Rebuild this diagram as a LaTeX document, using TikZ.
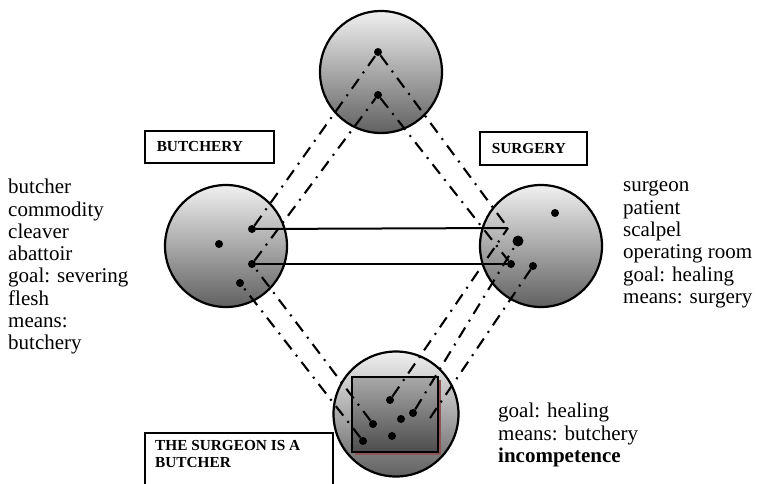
\documentclass[tikz,border=0pt]{standalone}
\usepackage{fontspec}
\setmainfont{Liberation Serif}
\begin{document}
\begin{tikzpicture}[x=1pt,y=-1pt,
  ball/.style={circle,draw=black,line width=2.2pt,top color=black!6,bottom color=black!62,minimum size=122pt,inner sep=0pt},
  dotn/.style={circle,fill=black,inner sep=0pt,minimum size=8pt},
  bigdot/.style={circle,fill=black,inner sep=0pt,minimum size=11pt},
  dd/.style={line width=2.1pt,dash pattern=on 12pt off 7pt on 2pt off 7pt},
  link/.style={line width=2pt},
  boxline/.style={line width=1.5pt},
  labelbox/.style={draw,line width=1.5pt,anchor=north west,font=\fontsize{15.3}{18}\selectfont\bfseries,inner xsep=12pt,inner ysep=0pt,align=left},
  listtext/.style={anchor=north west,font=\fontsize{21}{22.3}\selectfont,inner sep=0pt,align=left}]
\useasboundingbox (0,0) rectangle (757,483);
% circles
\node[ball] (ctop) at (381,72) {};
\node[ball] (cleft) at (226,246) {};
\node[ball] (cright) at (541,246) {};
\node[ball,minimum size=125pt] (cbot) at (396,414) {};
% rectangle in bottom circle
\fill[fill={rgb,255:red,140;green,85;blue,85}] (354.5,380) rectangle (440.5,455);
\path[draw=black,line width=1.5pt,top color=black!34,bottom color=black!70] (352,377) rectangle (438,452);
% dots
\node[dotn] (t1) at (378,52) {};
\node[dotn] (t2) at (378,95) {};
\node[dotn] (l0) at (219,244) {};
\node[dotn] (l1) at (252,229) {};
\node[dotn] (l2) at (252,264) {};
\node[dotn] (l3) at (240,283) {};
\node[dotn] (r0) at (555,213) {};
\node[bigdot] (rb) at (518,241) {};
\node[dotn] (r2) at (511,264) {};
\node[dotn] (r3) at (533,266) {};
\coordinate (rtip) at (508,228);
\node[dotn] (b1) at (373,424) {};
\node[dotn] (b2) at (363,441) {};
\node[dotn] (b3) at (390,400) {};
\node[dotn] (b4) at (413,413) {};
\node[dotn] (b5) at (401,419) {};
\node[dotn] (b6) at (392,436) {};
\coordinate (bend) at (430,418);
% solid links
\draw[link] (l1) -- (rtip);
\draw[link] (l2) -- (r2);
% dash-dot links
\draw[dd] (l1) -- (t1);
\draw[dd] (l2) -- (t2);
\draw[dd] (t1) -- (rtip);
\draw[dd] (t2) -- (r2);
\draw[dd] (b1) -- (l2);
\draw[dd] (b2) -- (l3);
\draw[dd] (b3) -- (rtip);
\draw[dd] (b4) -- (rb);
\draw[dd] (bend) -- (r3);
% label boxes
\node[labelbox,text width=105pt,minimum height=32pt] (lbut) at (144,130) {BUTCHERY};
\node[labelbox,text width=83pt,minimum height=33pt] (lsur) at (479,131) {SURGERY};
\node[anchor=north west,font=\fontsize{15.3}{17}\selectfont\bfseries,inner sep=0pt,align=left] (lsb) at (155,440) {THE SURGEON IS A\\BUTCHER};
\draw[boxline] (145,484) |- (333,433) -- (333,484);
% lists
\node[listtext] (lista) at (8,179) {butcher\\commodity\\cleaver\\abattoir\\goal: severing\\flesh\\means:\\butchery};
\node[listtext] (listb) at (623,181) {surgeon\\patient\\scalpel\\operating room\\goal: healing\\means: surgery};
\node[listtext] (listc) at (498,403) {goal: healing\\means: butchery\\\textbf{incompetence}};
\end{tikzpicture}
\end{document}
